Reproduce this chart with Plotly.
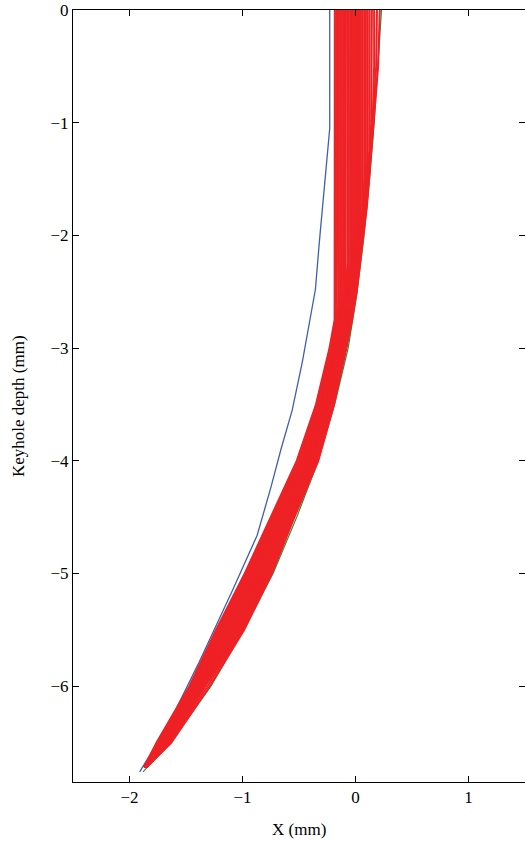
import plotly.graph_objects as go

# ---------------- data (mm) ----------------
# Blue reference curve
blue_x = [-0.228, -0.228, -0.32, -0.355, -0.47, -0.56, -0.66, -0.75, -0.87, -1.08, -1.39, -1.65, -1.91]
blue_y = [0.0, -1.05, -2.06, -2.48, -3.12, -3.55, -3.90, -4.24, -4.66, -5.13, -5.80, -6.33, -6.76]

# Green reference curve
green_x = [0.23, 0.20, 0.165, 0.125, 0.075, 0.015, -0.065, -0.185, -0.33, -0.52, -0.73, -0.99, -1.28, -1.60, -1.88]
green_y = [0.0, -0.5, -1.0, -1.5, -2.0, -2.5, -3.0, -3.5, -4.0, -4.5, -5.0, -5.5, -6.0, -6.45, -6.76]

# Red family of keyhole profiles: shared depth grid, one x-list per profile
red_depth = [0.0, -0.5, -1.0, -1.25, -1.5, -1.75, -2.0, -2.25, -2.5, -2.75,
             -3.0, -3.5, -4.0, -4.5, -5.0, -5.5, -6.0, -6.5, -6.72]
red_x = [
    [-0.183, -0.183, -0.183, -0.183, -0.183, -0.183, -0.183, -0.183, -0.183, -0.185,
     -0.23, -0.35, -0.52, -0.75, -0.98, -1.235, -1.47, -1.76, -1.87],
    [-0.171, -0.171, -0.171, -0.171, -0.171, -0.171, -0.171, -0.171, -0.171, -0.175,
     -0.22, -0.345, -0.515, -0.74, -0.975, -1.225, -1.465, -1.755, -1.87],
    [-0.160, -0.160, -0.160, -0.160, -0.160, -0.160, -0.160, -0.160, -0.160, -0.165,
     -0.21, -0.34, -0.50, -0.73, -0.97, -1.215, -1.46, -1.75, -1.87],
    [-0.147, -0.147, -0.147, -0.147, -0.147, -0.147, -0.147, -0.147, -0.147, -0.157,
     -0.205, -0.335, -0.50, -0.725, -0.96, -1.205, -1.455, -1.745, -1.87],
    [-0.135, -0.135, -0.135, -0.135, -0.135, -0.135, -0.135, -0.135, -0.135, -0.15,
     -0.20, -0.33, -0.49, -0.72, -0.95, -1.195, -1.45, -1.74, -1.87],
    [-0.122, -0.122, -0.122, -0.122, -0.122, -0.122, -0.122, -0.122, -0.122, -0.145,
     -0.195, -0.32, -0.485, -0.71, -0.94, -1.185, -1.445, -1.735, -1.87],
    [-0.110, -0.110, -0.110, -0.110, -0.110, -0.110, -0.110, -0.110, -0.110, -0.14,
     -0.19, -0.31, -0.48, -0.70, -0.93, -1.175, -1.44, -1.73, -1.87],
    [-0.097, -0.097, -0.097, -0.097, -0.097, -0.097, -0.097, -0.097, -0.10, -0.135,
     -0.185, -0.305, -0.475, -0.695, -0.92, -1.17, -1.435, -1.725, -1.865],
    [-0.085, -0.085, -0.085, -0.085, -0.085, -0.085, -0.085, -0.085, -0.09, -0.13,
     -0.18, -0.30, -0.47, -0.69, -0.91, -1.165, -1.43, -1.72, -1.86],
    [-0.072, -0.072, -0.072, -0.072, -0.072, -0.072, -0.072, -0.072, -0.085, -0.125,
     -0.175, -0.295, -0.46, -0.68, -0.905, -1.155, -1.425, -1.715, -1.86],
    [-0.060, -0.060, -0.060, -0.060, -0.060, -0.060, -0.060, -0.060, -0.08, -0.12,
     -0.17, -0.29, -0.45, -0.67, -0.90, -1.145, -1.42, -1.71, -1.86],
    [-0.047, -0.047, -0.047, -0.047, -0.047, -0.047, -0.047, -0.047, -0.075, -0.115,
     -0.165, -0.285, -0.445, -0.665, -0.89, -1.135, -1.415, -1.705, -1.86],
    [-0.035, -0.035, -0.035, -0.035, -0.035, -0.035, -0.035, -0.035, -0.07, -0.11,
     -0.16, -0.28, -0.44, -0.66, -0.88, -1.125, -1.41, -1.70, -1.86],
    [-0.023, -0.023, -0.023, -0.023, -0.023, -0.023, -0.023, -0.023, -0.065, -0.105,
     -0.155, -0.272, -0.432, -0.652, -0.87, -1.115, -1.40, -1.70, -1.86],
    [-0.012, -0.012, -0.012, -0.012, -0.012, -0.012, -0.012, -0.025, -0.06, -0.10,
     -0.15, -0.265, -0.425, -0.645, -0.86, -1.105, -1.395, -1.695, -1.86],
    [-0.001, -0.001, -0.001, -0.001, -0.001, -0.001, -0.001, -0.02, -0.055, -0.095,
     -0.145, -0.26, -0.418, -0.638, -0.85, -1.095, -1.39, -1.69, -1.86],
    [0.010, 0.010, 0.010, 0.010, 0.010, 0.010, 0.010, -0.016, -0.05, -0.09,
     -0.14, -0.255, -0.41, -0.63, -0.84, -1.085, -1.385, -1.685, -1.86],
    [0.022, 0.022, 0.022, 0.022, 0.022, 0.022, 0.022, -0.012, -0.045, -0.085,
     -0.135, -0.25, -0.405, -0.622, -0.832, -1.077, -1.38, -1.681, -1.858],
    [0.035, 0.035, 0.035, 0.035, 0.035, 0.035, 0.027, -0.007, -0.04, -0.08,
     -0.13, -0.245, -0.40, -0.615, -0.825, -1.07, -1.375, -1.677, -1.857],
    [0.048, 0.048, 0.048, 0.048, 0.048, 0.048, 0.031, -0.003, -0.036, -0.075,
     -0.125, -0.24, -0.392, -0.608, -0.818, -1.063, -1.37, -1.672, -1.856],
    [0.062, 0.062, 0.062, 0.062, 0.062, 0.062, 0.035, 0.002, -0.031, -0.07,
     -0.12, -0.235, -0.385, -0.60, -0.81, -1.055, -1.364, -1.668, -1.856],
    [0.077, 0.077, 0.077, 0.077, 0.077, 0.068, 0.040, 0.007, -0.026, -0.066,
     -0.116, -0.23, -0.378, -0.593, -0.80, -1.045, -1.358, -1.663, -1.855],
    [0.092, 0.092, 0.092, 0.092, 0.092, 0.074, 0.044, 0.011, -0.021, -0.061,
     -0.111, -0.225, -0.372, -0.586, -0.793, -1.038, -1.353, -1.659, -1.854],
    [0.108, 0.108, 0.108, 0.108, 0.098, 0.079, 0.049, 0.017, -0.016, -0.056,
     -0.106, -0.219, -0.365, -0.578, -0.784, -1.029, -1.347, -1.653, -1.853],
    [0.125, 0.125, 0.125, 0.123, 0.103, 0.083, 0.053, 0.022, -0.01, -0.05,
     -0.10, -0.213, -0.357, -0.569, -0.774, -1.019, -1.341, -1.648, -1.853],
    [0.145, 0.145, 0.139, 0.128, 0.108, 0.088, 0.058, 0.027, -0.005, -0.045,
     -0.095, -0.208, -0.35, -0.562, -0.766, -1.011, -1.336, -1.644, -1.852],
    [0.165, 0.165, 0.152, 0.132, 0.112, 0.092, 0.062, 0.031, 0.0, -0.04,
     -0.09, -0.202, -0.343, -0.555, -0.757, -1.002, -1.33, -1.639, -1.851],
    [0.190, 0.183, 0.156, 0.136, 0.116, 0.096, 0.066, 0.036, 0.005, -0.035,
     -0.085, -0.196, -0.337, -0.548, -0.749, -0.994, -1.31, -1.635, -1.85],
    [0.215, 0.20, 0.16, 0.14, 0.12, 0.10, 0.07, 0.04, 0.01, -0.03,
     -0.08, -0.19, -0.33, -0.54, -0.74, -0.985, -1.29, -1.63, -1.85],
]

x_ticks = [-2, -1, 0, 1]
y_ticks = [0, -1, -2, -3, -4, -5, -6]

# ---------------- figure ----------------
fig = go.Figure()
fig.add_trace(go.Scatter(x=green_x, y=green_y, mode="lines",
                         line=dict(color="#2e8b3e", width=1.2), showlegend=False))
fig.add_trace(go.Scatter(x=blue_x, y=blue_y, mode="lines",
                         line=dict(color="#3f5fae", width=1.3), showlegend=False))
for xs in red_x:
    fig.add_trace(go.Scatter(x=xs, y=red_depth, mode="lines",
                             line=dict(color="#ee2226", width=2.0), showlegend=False))

font_family = "Liberation Serif, Times New Roman, serif"
axis_common = dict(showgrid=False, zeroline=False, showline=True, linecolor="black",
                   linewidth=1, mirror="ticks", ticks="inside", ticklen=6,
                   tickwidth=1, tickcolor="black",
                   tickfont=dict(family=font_family, size=17, color="black"))

fig.update_layout(
    width=525, height=841,
    margin=dict(l=73, r=0, t=10, b=59),
    paper_bgcolor="white", plot_bgcolor="white",
    xaxis=dict(range=[-2.5, 1.5], tickvals=x_ticks, **axis_common),
    yaxis=dict(range=[-6.85, 0], tickvals=y_ticks, **axis_common),
    annotations=[
        dict(text="X (mm)", xref="paper", yref="paper", x=0.5, y=-0.061,
             xanchor="center", yanchor="middle", showarrow=False,
             font=dict(family=font_family, size=17, color="black")),
        dict(text="Keyhole depth (mm)", xref="paper", yref="paper", x=-0.1217, y=0.487,
             xanchor="center", yanchor="middle", showarrow=False, textangle=-90,
             font=dict(family=font_family, size=17, color="black")),
    ],
    hovermode=False,
)

fig.write_html(
    "out.html",
    config={"displayModeBar": False},
    post_script="document.body.style.margin='0px';document.body.style.overflow='hidden';",
)
